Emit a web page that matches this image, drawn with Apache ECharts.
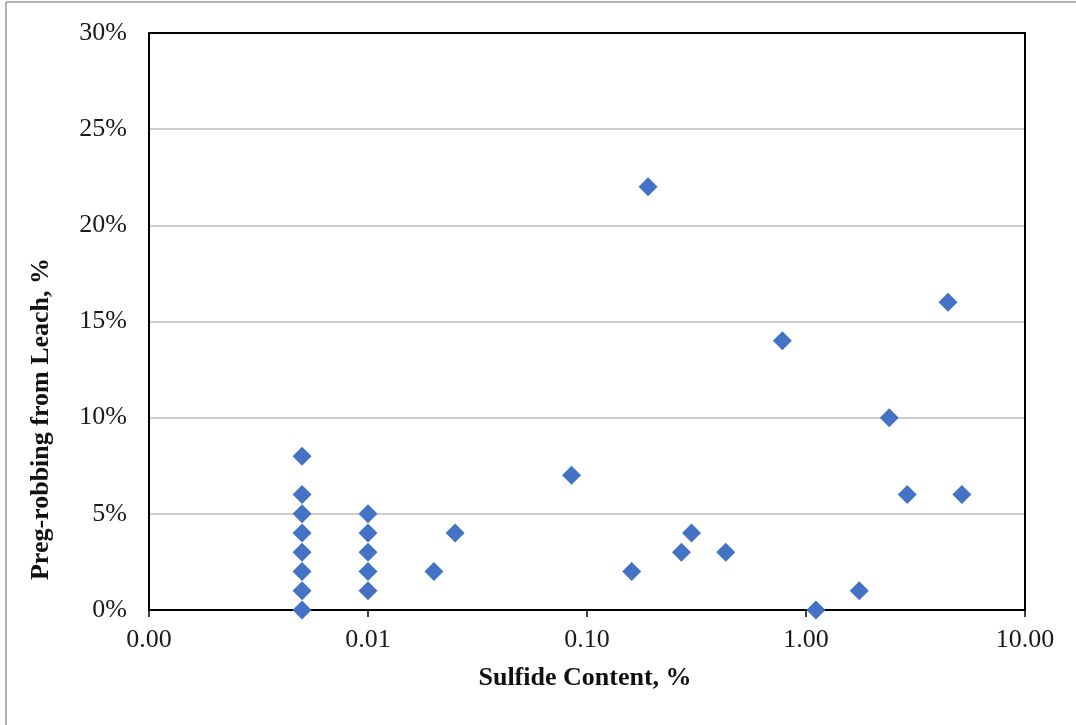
<!DOCTYPE html>
<html>
<head>
<meta charset="utf-8">
<script src="https://cdn.jsdelivr.net/npm/echarts@6/dist/echarts.min.js"></script>
<style>
  html, body { margin: 0; padding: 0; background: #ffffff; }
  #chart { width: 1076px; height: 725px; }
</style>
</head>
<body>
<div id="chart"></div>
<script>
// Sulfide content (%) of each sample, log scale
const sulfideContent = [
  0.005, 0.005, 0.005, 0.005, 0.005, 0.005, 0.005, 0.005,
  0.01, 0.01, 0.01, 0.01, 0.01,
  0.02, 0.025, 0.085, 0.16, 0.19, 0.27, 0.30, 0.43,
  0.78, 1.11, 1.75, 2.4, 2.9, 4.45, 5.15
];
// Preg-robbing measured in the leach test (%)
const pregRobbing = [
  8, 6, 5, 4, 3, 2, 1, 0,
  5, 4, 3, 2, 1,
  2, 4, 7, 2, 22, 3, 4, 3,
  14, 0, 1, 10, 6, 16, 6
];
// Axis ranges and tick steps
const xRange = [0.001, 10];
const yRange = [0, 30];
const yStep = 5;

const xTitle = 'Sulfide Content, %';
const yTitle = 'Preg-robbing from Leach, %';

const points = sulfideContent.map((x, i) => [x, pregRobbing[i]]);

const serif = '"Liberation Serif", "Times New Roman", serif';
const frameLine = { show: true, onZero: false, lineStyle: { color: '#000000', width: 2 } };
const chart = echarts.init(document.getElementById('chart'), null, { renderer: 'canvas' });

chart.setOption({
  animation: false,
  backgroundColor: '#ffffff',
  grid: {
    left: 149, right: 51, top: 33, bottom: 115,
    containLabel: false
  },
  xAxis: [{
    type: 'log',
    logBase: 10,
    min: xRange[0],
    max: xRange[1],
    axisLine: frameLine,
    axisTick: { show: true, inside: false, length: 7, lineStyle: { color: '#000000', width: 1.5 } },
    minorTick: { show: false },
    splitLine: { show: false },
    axisLabel: {
      margin: 17,
      color: '#1a1a1a',
      fontFamily: serif,
      fontSize: 26,
      formatter: v => Number(v).toFixed(2)
    }
  }, {
    // top edge of the plot frame
    type: 'log',
    logBase: 10,
    position: 'top',
    min: xRange[0],
    max: xRange[1],
    axisLine: frameLine,
    axisTick: { show: false },
    axisLabel: { show: false },
    splitLine: { show: false },
    z: 10
  }],
  yAxis: [{
    type: 'value',
    min: yRange[0],
    max: yRange[1],
    interval: yStep,
    axisLine: frameLine,
    axisTick: { show: false },
    splitLine: { show: true, lineStyle: { color: '#bdbdbd', width: 1.5 } },
    axisLabel: {
      margin: 22,
      color: '#1a1a1a',
      fontFamily: serif,
      fontSize: 26,
      formatter: '{value}%'
    }
  }, {
    // right edge of the plot frame
    type: 'value',
    position: 'right',
    min: yRange[0],
    max: yRange[1],
    interval: yStep,
    axisLine: frameLine,
    axisTick: { show: false },
    axisLabel: { show: false },
    splitLine: { show: false },
    z: 10
  }],
  series: [{
    type: 'scatter',
    data: points,
    symbol: 'diamond',
    symbolSize: 19,
    itemStyle: { color: '#4472C4', opacity: 1 },
    z: 5
  }],
  graphic: [
    {
      type: 'line',
      shape: { x1: 6, y1: 2, x2: 1076, y2: 2 },
      style: { stroke: '#9a9a9a', lineWidth: 1.5 },
      silent: true
    },
    {
      type: 'line',
      shape: { x1: 6, y1: 2, x2: 6, y2: 725 },
      style: { stroke: '#9a9a9a', lineWidth: 1.5 },
      silent: true
    },
    {
      type: 'text',
      x: 585, y: 678,
      style: {
        text: xTitle,
        font: 'bold 26px ' + serif,
        fill: '#111111',
        textAlign: 'center',
        textVerticalAlign: 'middle'
      }
    },
    {
      type: 'text',
      x: 41, y: 419,
      rotation: Math.PI / 2,
      style: {
        text: yTitle,
        font: 'bold 26px ' + serif,
        fill: '#111111',
        textAlign: 'center',
        textVerticalAlign: 'middle'
      }
    }
  ]
});
</script>
</body>
</html>
